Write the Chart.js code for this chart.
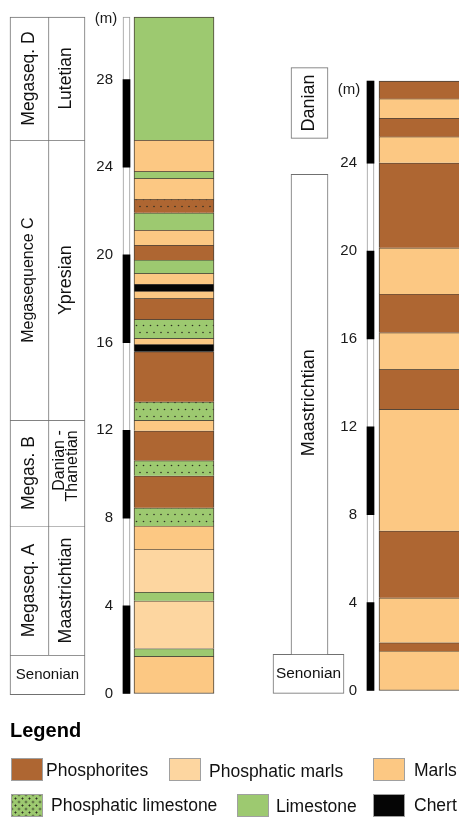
<!DOCTYPE html>
<html>
<head>
<meta charset="utf-8">
<title>Phosphate series – lithostratigraphic columns</title>
<script src="https://cdn.jsdelivr.net/npm/chart.js@4.4.1/dist/chart.umd.min.js"></script>
<style>
  html, body { margin: 0; padding: 0; background: #fff; }
  #wrap { position: relative; width: 459px; height: 819px; overflow: hidden;
          font-family: 'Liberation Sans', Arial, Helvetica, sans-serif; color: #111; }
  #section { position: absolute; left: 0; top: 0; }
  .lg-title { position: absolute; left: 10px; top: 718px; font-weight: bold;
              font-size: 20px; line-height: 24px; color: #000; }
  .sw { position: absolute; width: 32px; height: 23px; box-sizing: border-box;
        border: 1px solid #a0a0a0; }
  .lt { position: absolute; font-size: 17.5px; line-height: 22px; white-space: nowrap; color: #111; }
</style>
</head>
<body>
<div id="wrap">
  <canvas id="section" width="459" height="819"></canvas>
  <div id="legend"></div>
</div>
<script>
// ---------------------------------------------------------------
// Lithologies
// P = phosphorites, PM = phosphatic marls, M = marls,
// PL = phosphatic limestone, L = limestone, C = chert,
// PD = phosphorite bed with scattered grains
// ---------------------------------------------------------------
const lithologyKeys   = ['P', 'PM', 'M', 'PL', 'L', 'C'];
const lithologyLabels = ['Phosphorites', 'Phosphatic marls', 'Marls',
                         'Phosphatic limestone', 'Limestone', 'Chert'];

// Left section: bed tops (m), from the base upwards, and their lithology
const leftTops = [1.70, 2.05, 4.23, 4.63, 6.58, 7.64, 8.47, 9.93, 10.62, 11.98,
                  12.46, 13.30, 15.59, 15.92, 16.20, 17.06, 18.02, 18.35, 18.67,
                  19.16, 19.77, 20.45, 21.13, 21.92, 22.54, 23.49, 23.81, 25.24, 30.85];
const leftLith = ['M', 'L', 'PM', 'L', 'PM', 'M', 'PL', 'P', 'PL', 'P',
                  'M', 'PL', 'P', 'C', 'M', 'PL', 'P', 'M', 'C',
                  'M', 'L', 'P', 'M', 'L', 'PD', 'M', 'L', 'M', 'L'];

// Right section: bed tops (m) and lithology
const rightTops = [1.80, 2.18, 4.22, 7.27, 12.80, 14.62, 16.29, 18.05, 20.15,
                   24.02, 25.21, 26.06, 26.94, 27.74];
const rightLith = ['M', 'P', 'M', 'P', 'M', 'P', 'M', 'P', 'M',
                   'P', 'M', 'P', 'M', 'P'];

// Depth scales
const leftDepthTicks  = [0, 4, 8, 12, 16, 20, 24, 28];
const rightDepthTicks = [0, 4, 8, 12, 16, 20, 24];
const leftScaleBands  = [[0, 4], [8, 12], [16, 20], [24, 28]];
const rightScaleBands = [[0, 4], [8, 12], [16, 20], [24, 27.74]];

// Left chronostratigraphic table: unit limits (m), stages and megasequences
const leftUnitLimits = [-0.05, 1.75, 7.64, 12.46, 25.24, 30.85];
const leftStages     = ['Senonian', 'Maastrichtian', ['Danian -', 'Thanetian'], 'Ypresian', 'Lutetian'];
const leftMegaseqs   = [null, 'Megaseq. A', 'Megas. B', 'Megasequence C', 'Megaseq. D'];

// Right table: unit ranges (m), stage names and label anchor depth (m)
const rightUnits       = [[-0.13, 1.65], [1.65, 23.5], [25.13, 28.35]];
const rightStages      = ['Senonian', 'Maastrichtian', 'Danian'];
const rightLabelDepths = [0.76, 13.1, 26.74];

// ---------------------------------------------------------------
// Styling
// ---------------------------------------------------------------
Chart.defaults.font.family = "'Liberation Sans', Arial, Helvetica, sans-serif";

const COLORS = { P: '#AE6632', PM: '#FDD6A0', M: '#FCC883', L: '#9DC970', PL: '#9DC970', PD: '#AE6632', C: '#050505' };
const LAYER_LINE = '#4a4238';
const TABLE_LINE = '#707070';

function dottedPattern(bg) {
  const c = document.createElement('canvas');
  c.width = 14; c.height = 14;
  const g = c.getContext('2d');
  g.fillStyle = bg;
  g.fillRect(0, 0, 14, 14);
  g.fillStyle = '#2e2e22';
  [[3.5, 3.5], [10.5, 3.5], [7, 10.5], [0, 10.5], [14, 10.5]].forEach(([px, py]) => {
    g.beginPath(); g.arc(px, py, 0.8, 0, Math.PI * 2); g.fill();
  });
  return g.createPattern(c, 'repeat');
}
const PATTERNS = { PL: dottedPattern(COLORS.PL), PD: dottedPattern(COLORS.PD) };
const fillFor = code => PATTERNS[code] || COLORS[code];

// Page layout: horizontal centres / widths (px) and vertical placement of the depth scales
const GEOM = {
  leftCol:   { x: 174,   w: 80 },
  rightCol:  { x: 421,   w: 84 },
  leftBar:   { x: 126.5, w: 7 },
  rightBar:  { x: 370.5, w: 7 },
  tableA:    { x: 29.5,  w: 39 },
  tableB:    { x: 67,    w: 36 },
  tableAB:   { x: 47.5,  w: 75 },
  rTable:    { x: 309.5, w: 37 },
  rTableWide:{ x: 308.5, w: 71 },
  leftTickX: 113, rightTickX: 357,
  leftZeroY: 693.5,  leftPxPerM: 21.93,
  rightZeroY: 690.5, rightPxPerM: 21.97
};

const edge = (t, r, b, l) => ({ top: t, right: r, bottom: b, left: l });
const bedBars = (tops, x) => tops.map((t, i) => ({ x, y: [i ? tops[i - 1] : 0, t] }));

function column(tops, lith, g, axis) {
  return {
    yAxisID: axis,
    data: bedBars(tops, g.x),
    backgroundColor: lith.map(fillFor),
    borderColor: LAYER_LINE,
    borderWidth: tops.map((_, i) => edge(1, 1, i ? 0 : 1, 1)),
    barThickness: g.w,
    order: 3
  };
}

const leftA = leftMegaseqs.map((m, i) => m ? { x: GEOM.tableA.x, y: [leftUnitLimits[i], leftUnitLimits[i + 1]] } : null).filter(Boolean);
const leftB = leftMegaseqs.map((m, i) => m ? { x: GEOM.tableB.x, y: [leftUnitLimits[i], leftUnitLimits[i + 1]] } : null).filter(Boolean);

const datasets = [
  column(leftTops, leftLith, GEOM.leftCol, 'yL'),
  column(rightTops, rightLith, GEOM.rightCol, 'yR'),
  // depth scale bars
  { yAxisID: 'yL', data: [{ x: GEOM.leftBar.x, y: [0, leftTops[leftTops.length - 1]] }],
    backgroundColor: '#fff', borderColor: '#9a9a9a', borderWidth: 1, barThickness: GEOM.leftBar.w, order: 2 },
  { yAxisID: 'yL', data: leftScaleBands.map(b => ({ x: GEOM.leftBar.x, y: b })),
    backgroundColor: '#000', borderWidth: 0, barThickness: GEOM.leftBar.w, order: 1 },
  { yAxisID: 'yR', data: [{ x: GEOM.rightBar.x, y: [0, rightTops[rightTops.length - 1]] }],
    backgroundColor: '#fff', borderColor: '#9a9a9a', borderWidth: 1, barThickness: GEOM.rightBar.w, order: 2 },
  { yAxisID: 'yR', data: rightScaleBands.map(b => ({ x: GEOM.rightBar.x, y: b })),
    backgroundColor: '#000', borderWidth: 0, barThickness: GEOM.rightBar.w, order: 1 },
  // chronostratigraphic table, left
  { yAxisID: 'yL', data: leftA, backgroundColor: '#fff', borderColor: TABLE_LINE,
    borderWidth: edge(1, 1, 0, 1), barThickness: GEOM.tableA.w, order: 3 },
  { yAxisID: 'yL', data: leftB, backgroundColor: '#fff', borderColor: TABLE_LINE,
    borderWidth: edge(1, 1, 0, 0), barThickness: GEOM.tableB.w, order: 3 },
  { yAxisID: 'yL', data: [{ x: GEOM.tableAB.x, y: [leftUnitLimits[0], leftUnitLimits[1]] }],
    backgroundColor: '#fff', borderColor: TABLE_LINE, borderWidth: 1, barThickness: GEOM.tableAB.w, order: 3 },
  // chronostratigraphic table, right
  { yAxisID: 'yR', data: rightUnits.slice(1).map(u => ({ x: GEOM.rTable.x, y: u })),
    backgroundColor: '#fff', borderColor: TABLE_LINE,
    borderWidth: [edge(1, 1, 0, 1), edge(1, 1, 1, 1)], barThickness: GEOM.rTable.w, order: 3 },
  { yAxisID: 'yR', data: [{ x: GEOM.rTableWide.x, y: rightUnits[0] }],
    backgroundColor: '#fff', borderColor: TABLE_LINE, borderWidth: 1, barThickness: GEOM.rTableWide.w, order: 3 }
];

// Text of the tables and the unit symbol of the depth scales
function vText(ctx, lines, cx, cy, size, align) {
  ctx.save();
  ctx.translate(cx, cy);
  ctx.rotate(-Math.PI / 2);
  ctx.font = size + "px 'Liberation Sans', Arial, sans-serif";
  ctx.textAlign = align || 'center';
  ctx.textBaseline = 'middle';
  const arr = Array.isArray(lines) ? lines : [lines];
  const lh = size * 0.84;
  arr.forEach((s, i) => ctx.fillText(s, 0, (i - (arr.length - 1) / 2) * lh));
  ctx.restore();
}
function hText(ctx, s, cx, cy, size) {
  ctx.save();
  ctx.font = size + "px 'Liberation Sans', Arial, sans-serif";
  ctx.textAlign = 'center';
  ctx.textBaseline = 'middle';
  ctx.fillText(s, cx, cy);
  ctx.restore();
}

const tableText = {
  id: 'tableText',
  afterDatasetsDraw(chart) {
    const { ctx, scales: { x, yL, yR } } = chart;
    ctx.fillStyle = '#111';
    const megaSize = [0, 17.5, 17.5, 16, 17.5];
    const stageSize = [15, 17.8, 16, 18, 17.5];
    for (let i = 0; i < leftStages.length; i++) {
      const y0 = yL.getPixelForValue(leftUnitLimits[i]);
      const y1 = yL.getPixelForValue(leftUnitLimits[i + 1]);
      const cy = (y0 + y1) / 2;
      if (!leftMegaseqs[i]) {
        hText(ctx, leftStages[i], x.getPixelForValue(GEOM.tableAB.x), cy, stageSize[i]);
        continue;
      }
      vText(ctx, leftMegaseqs[i], x.getPixelForValue(GEOM.tableA.x) - 0.5, cy, megaSize[i]);
      if (Array.isArray(leftStages[i])) {
        vText(ctx, leftStages[i], x.getPixelForValue(GEOM.tableB.x) - 1, y1 + 10, stageSize[i], 'right');
      } else {
        vText(ctx, leftStages[i], x.getPixelForValue(GEOM.tableB.x) - 0.5, cy, stageSize[i]);
      }
    }
    rightStages.forEach((s, i) => {
      const cy = yR.getPixelForValue(rightLabelDepths[i]);
      if (i === 0) hText(ctx, s, x.getPixelForValue(GEOM.rTableWide.x), cy, 15.4);
      else vText(ctx, s, x.getPixelForValue(GEOM.rTable.x) - 0.5, cy, 18);
    });
    ctx.fillStyle = '#1a1a1a';
    hText(ctx, '(m)', x.getPixelForValue(106), yL.getPixelForValue(30.78), 15);
    hText(ctx, '(m)', x.getPixelForValue(349), yR.getPixelForValue(27.33), 15);
  }
};

const depthAxis = (ticks, posX) => ({
  type: 'linear', min: -6, max: 32,
  position: { x: posX },
  afterBuildTicks: s => { s.ticks = ticks.map(v => ({ value: v })); },
  grid: { display: false, drawTicks: false },
  border: { display: false },
  ticks: { padding: 0, color: '#1a1a1a', font: { size: 15 }, autoSkip: false, maxRotation: 0,
           callback: v => String(v) }
});

const chart = new Chart(document.getElementById('section'), {
  type: 'bar',
  data: { datasets },
  options: {
    responsive: false,
    animation: false,
    events: [],
    layout: { padding: 0, autoPadding: false },
    datasets: { bar: { grouped: false, borderSkipped: false } },
    plugins: { legend: { display: false }, tooltip: { enabled: false } },
    scales: {
      x: { type: 'linear', min: 0, max: 459, offset: false, display: false },
      yL: depthAxis(leftDepthTicks, GEOM.leftTickX),
      yR: depthAxis(rightDepthTicks, GEOM.rightTickX)
    }
  },
  plugins: [tableText]
});

// Set each depth range so that 0 m and the metre spacing land where the page layout wants them
function placeDepthScale(id, zeroY, pxPerM) {
  const { top, bottom } = chart.chartArea;
  const sc = chart.options.scales[id];
  sc.min = -(bottom - zeroY) / pxPerM;
  sc.max = sc.min + (bottom - top) / pxPerM;
}
placeDepthScale('yL', GEOM.leftZeroY, GEOM.leftPxPerM);
placeDepthScale('yR', GEOM.rightZeroY, GEOM.rightPxPerM);
chart.update();

// ---------------------------------------------------------------
// Legend
// ---------------------------------------------------------------
const legendSlots = [
  { sx: 11,  sy: 758, tx: 46,  ty: 758.5 },
  { sx: 169, sy: 758, tx: 209, ty: 759.5 },
  { sx: 373, sy: 758, tx: 414, ty: 758.5 },
  { sx: 11,  sy: 794, tx: 51,  ty: 793.5 },
  { sx: 237, sy: 794, tx: 276, ty: 794.5 },
  { sx: 373, sy: 794, tx: 414, ty: 794 }
];
const legendEl = document.getElementById('legend');
legendEl.innerHTML = '<div class="lg-title">Legend</div>';
lithologyKeys.forEach((k, i) => {
  const p = legendSlots[i];
  const sw = document.createElement('div');
  sw.className = 'sw';
  sw.style.left = p.sx + 'px';
  sw.style.top = p.sy + 'px';
  if (k === 'PL') {
    sw.style.background =
      'radial-gradient(circle, #2e2e22 0.8px, transparent 1.2px) 0 0 / 7px 7px, ' +
      'radial-gradient(circle, #2e2e22 0.8px, transparent 1.2px) 3.5px 3.5px / 7px 7px, ' + COLORS.PL;
  } else {
    sw.style.background = COLORS[k];
  }
  legendEl.appendChild(sw);
  const t = document.createElement('div');
  t.className = 'lt';
  t.style.left = p.tx + 'px';
  t.style.top = p.ty + 'px';
  t.textContent = lithologyLabels[i];
  legendEl.appendChild(t);
});
</script>
</body>
</html>
